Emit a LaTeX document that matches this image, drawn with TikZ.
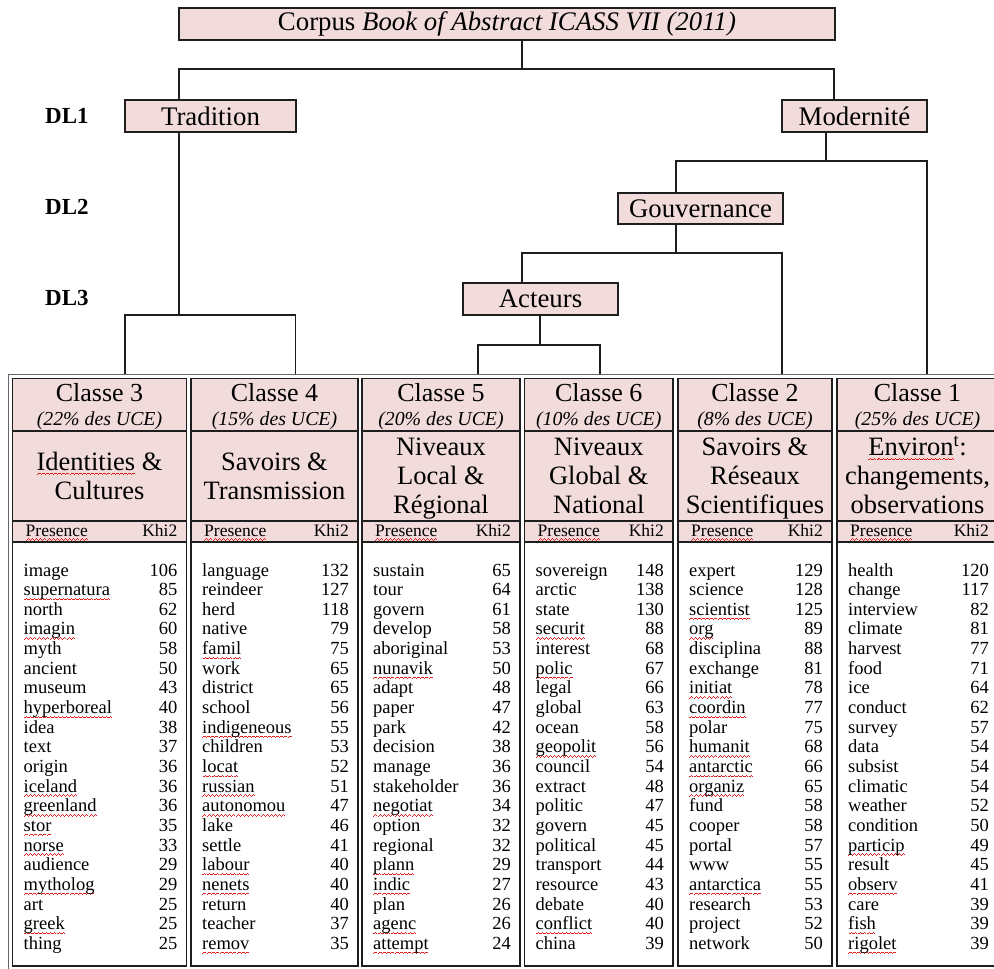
\documentclass[tikz,border=0pt]{standalone}
\usepackage{fontspec}
\setmainfont{Liberation Serif}
\usetikzlibrary{calc}
\definecolor{pinkbg}{RGB}{242,220,219}
\definecolor{lineink}{RGB}{30,30,30}
\definecolor{wavered}{RGB}{225,30,30}
\newsavebox\sqbox
\newcommand\wavebit{\hbox{\rule[-4.6pt]{1pt}{0.9pt}\rule[-3.9pt]{1pt}{0.9pt}\rule[-3.2pt]{1pt}{0.9pt}\rule[-3.9pt]{1pt}{0.9pt}}}
\newcommand\sq[1]{{\sbox\sqbox{#1}\rlap{\color{wavered}\hbox to \wd\sqbox{\xleaders\wavebit\hfill}}\usebox\sqbox}}
\newcommand\mycol[4]{%
  \foreach \w/\n [count=\i from 0] in {#4} {%
    \node[word] (#1w\i) at ({#2+11},{576+19.65*\i}) {\w};
    \node[num] (#1n\i) at ({#3-9},{576+19.65*\i}) {\n};
  }}
\newcommand\myhead[7]{% name, L, R, classe, uce, nlines, title
  \fill[pinkbg] (#2,378.5) rectangle (#3,542);
  \draw[cellline] (#2,378.5) rectangle (#3,966);
  \draw[cellline] (#2,431) -- (#3,431);
  \draw[cellline] (#2,521) -- (#3,521);
  \draw[cellline] (#2,542) -- (#3,542);
  \node[clsf] (#1cl) at ({(#2+#3)/2},401) {#4};
  \node[ucef] (#1uc) at ({(#2+#3)/2},425) {(#5)};
  \ifnum#6=2
    \node[titf] (#1ti) at ({(#2+#3)/2},499) {#7};
  \else
    \node[titf] (#1ti) at ({(#2+#3)/2},513) {#7};
  \fi
  \node[presf, anchor=base west] (#1pr) at ({#2+13},536) {\sq{Presence}};
  \node[presf, anchor=base east] (#1kh) at ({#3-9},536) {Khi2};
}
\begin{document}
\begin{tikzpicture}[x=1pt,y=-1pt,
  conn/.style={line width=1.3pt, draw=lineink},
  box/.style={draw=lineink, line width=1.3pt, fill=pinkbg, inner sep=0pt,
    font=\fontsize{26.8}{29}\selectfont},
  dl/.style={anchor=west, inner sep=0pt, font=\fontsize{23}{26}\selectfont\bfseries},
  cellline/.style={line width=1.1pt, draw=lineink},
  clsf/.style={anchor=base, inner sep=0pt, font=\fontsize{26}{28}\selectfont},
  ucef/.style={anchor=base, inner sep=0pt, font=\fontsize{19.8}{21}\selectfont\itshape},
  titf/.style={anchor=base, inner sep=0pt, align=center, font=\fontsize{26.5}{28.7}\selectfont},
  presf/.style={inner sep=0pt, font=\fontsize{17.5}{19}\selectfont},
  word/.style={anchor=base west, inner sep=0pt, font=\fontsize{18.5}{19}\selectfont},
  num/.style={anchor=base east, inner sep=0pt, font=\fontsize{18.5}{19}\selectfont}]
\useasboundingbox (0,0) rectangle (994,969);

% tree boxes
\node[box, minimum width=656, minimum height=32] (top) at (507,24) {Corpus \textit{Book of Abstract ICASS VII (2011)}};
\node[box, minimum width=171, minimum height=32] (trad) at (210.5,116) {Tradition};
\node[box, minimum width=145, minimum height=32] (mod) at (854.5,116) {Modernité};
\node[box, minimum width=165, minimum height=31] (gouv) at (700.5,208.5) {Gouvernance};
\node[box, minimum width=155, minimum height=32] (act) at (540.5,299) {Acteurs};

\node[dl] (dl1) at (45,116) {DL1};
\node[dl] (dl2) at (45,207) {DL2};
\node[dl] (dl3) at (45,298) {DL3};

% table
\coordinate (ttop) at (0,374);
\draw[line width=0.8pt, draw=black!60] (8.5,374) rectangle (1004,975);
\myhead{a}{12.5}{186.5}{Classe 3}{22\% des UCE}{2}{\sq{Identities} \&\\Cultures}
\myhead{b}{191}{358}{Classe 4}{15\% des UCE}{2}{Savoirs \&\\Transmission}
\myhead{c}{362}{520}{Classe 5}{20\% des UCE}{3}{Niveaux\\Local \&\\Régional}
\myhead{d}{524.5}{673}{Classe 6}{10\% des UCE}{3}{Niveaux\\Global \&\\National}
\myhead{e}{678}{832}{Classe 2}{8\% des UCE}{3}{Savoirs \&\\Réseaux\\Scientifiques}
\myhead{f}{837}{998}{Classe 1}{25\% des UCE}{3}{\sq{Environ}\textsuperscript{t}:\\changements,\\observations}

% connectors
\coordinate (t0) at (522,69);
\coordinate (t1) at (179,69);
\coordinate (t2) at (834,69);
\draw[conn] (t0 |- top.south) -- (t0);
\draw[conn] (trad.north -| t1) -- (t1) -- (t2) -- (mod.north -| t2);
\coordinate (r0) at (179,315);
\coordinate (r1) at (125,315);
\coordinate (r2) at (295.5,315);
\draw[conn] (trad.south -| r0) -- (r0);
\draw[conn] (r1 |- ttop) -- (r1) -- (r2) -- (r2 |- ttop);
\coordinate (m0) at (826,161);
\coordinate (m1) at (676,161);
\coordinate (m2) at (927,161);
\draw[conn] (mod.south -| m0) -- (m0);
\draw[conn] (gouv.north -| m1) -- (m1) -- (m2) -- (m2 |- ttop);
\coordinate (g0) at (676,253);
\coordinate (g1) at (522,253);
\coordinate (g2) at (782,253);
\draw[conn] (gouv.south -| g0) -- (g0);
\draw[conn] (act.north -| g1) -- (g1) -- (g2) -- (g2 |- ttop);
\coordinate (a0) at (540,345);
\coordinate (a1) at (478,345);
\coordinate (a2) at (600,345);
\draw[conn] (act.south -| a0) -- (a0);
\draw[conn] (a1 |- ttop) -- (a1) -- (a2) -- (a2 |- ttop);

% word lists
\mycol{a}{12.5}{186.5}{image/106,\sq{supernatura}/85,north/62,\sq{imagin}/60,myth/58,ancient/50,museum/43,\sq{hyperboreal}/40,idea/38,text/37,origin/36,\sq{iceland}/36,\sq{greenland}/36,\sq{stor}/35,\sq{norse}/33,audience/29,\sq{mytholog}/29,art/25,\sq{greek}/25,thing/25}
\mycol{b}{191}{358}{language/132,reindeer/127,herd/118,native/79,\sq{famil}/75,work/65,district/65,school/56,\sq{indigeneous}/55,children/53,\sq{locat}/52,\sq{russian}/51,\sq{autonomou}/47,lake/46,settle/41,\sq{labour}/40,\sq{nenets}/40,return/40,teacher/37,\sq{remov}/35}
\mycol{c}{362}{520}{sustain/65,tour/64,govern/61,develop/58,aboriginal/53,\sq{nunavik}/50,adapt/48,paper/47,park/42,decision/38,manage/36,stakeholder/36,\sq{negotiat}/34,option/32,regional/32,\sq{plann}/29,\sq{indic}/27,plan/26,\sq{agenc}/26,\sq{attempt}/24}
\mycol{d}{524.5}{673}{sovereign/148,arctic/138,state/130,\sq{securit}/88,interest/68,\sq{polic}/67,legal/66,global/63,ocean/58,\sq{geopolit}/56,council/54,extract/48,politic/47,govern/45,political/45,transport/44,resource/43,debate/40,\sq{conflict}/40,china/39}
\mycol{e}{678}{832}{expert/129,science/128,\sq{scientist}/125,\sq{org}/89,disciplina/88,exchange/81,\sq{initiat}/78,\sq{coordin}/77,polar/75,\sq{humanit}/68,\sq{antarctic}/66,\sq{organiz}/65,fund/58,cooper/58,portal/57,www/55,\sq{antarctica}/55,research/53,project/52,network/50}
\mycol{f}{837}{998}{health/120,change/117,interview/82,climate/81,harvest/77,food/71,ice/64,conduct/62,survey/57,data/54,subsist/54,climatic/54,weather/52,condition/50,\sq{particip}/49,result/45,\sq{observ}/41,care/39,\sq{fish}/39,\sq{rigolet}/39}
\end{tikzpicture}
\end{document}
